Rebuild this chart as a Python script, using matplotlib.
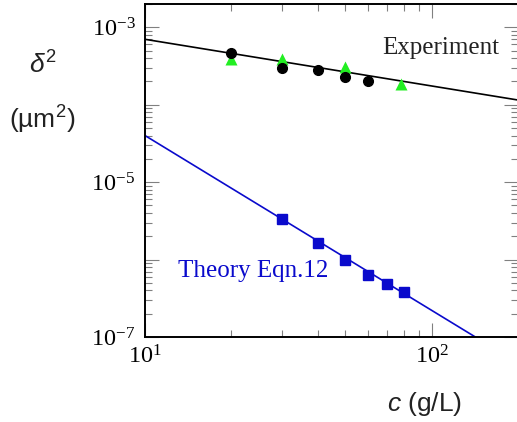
import numpy as np
import matplotlib
matplotlib.use('Agg')
import matplotlib.pyplot as plt
from matplotlib.ticker import LogLocator, FuncFormatter, NullFormatter

plt.rcParams['font.family'] = ['Liberation Serif', 'DejaVu Serif']
plt.rcParams['mathtext.fontset'] = 'custom'
plt.rcParams['mathtext.rm'] = 'Liberation Serif'
plt.rcParams['mathtext.it'] = 'Liberation Sans:italic'
plt.rcParams['mathtext.sf'] = 'Liberation Sans'

# experiment (two data sets) + fitted line
exp_circ_c = [20, 30, 40, 50, 60]
exp_circ_d2 = [4.7e-4, 3.0e-4, 2.8e-4, 2.3e-4, 2.0e-4]
exp_tri_c = [20, 30, 50, 78]
exp_tri_d2 = [3.85e-4, 3.9e-4, 3.05e-4, 1.86e-4]
exp_fit_c = [10, 200]
exp_fit_d2 = [7.0e-4, 1.15e-4]

# theory (Eqn. 12) points + line
theo_c = [30, 40, 50, 60, 70, 80]
theo_d2 = [3.34e-6, 1.65e-6, 9.9e-7, 6.4e-7, 4.9e-7, 3.8e-7]
theo_fit_c = [10, 142]
theo_fit_d2 = [4.0e-5, 1.0e-7]

blue = '#0a0acc'
green = '#22ee22'

fig = plt.figure(figsize=(5.17, 4.22), dpi=100)
ax = fig.add_axes([145/517, 1 - 337/422, 373/517, 333/422])

ax.plot(exp_fit_c, exp_fit_d2, color='black', lw=1.2, zorder=2)
ax.plot(exp_tri_c, exp_tri_d2, '^', color=green, ms=8, mec='none', zorder=3)
ax.plot(exp_circ_c, exp_circ_d2, 'o', color='black', ms=7, zorder=4)
ax.plot(theo_fit_c, theo_fit_d2, color=blue, lw=1.2, zorder=2)
ax.plot(theo_c, theo_d2, 's', color=blue, ms=7, zorder=3)

ax.set_xscale('log')
ax.set_yscale('log')
ax.set_xlim(10, 200)
ax.set_ylim(1e-7, 2e-3)

ax.yaxis.set_major_locator(LogLocator(base=10, numticks=20))
ax.yaxis.set_minor_locator(LogLocator(base=10, subs=np.arange(2, 10), numticks=20))
ax.yaxis.set_minor_formatter(NullFormatter())


def y_fmt(v, pos):
    e = int(round(np.log10(v)))
    if e % 2 == 0:
        return ''
    return r'$\mathdefault{10^{%d}}$' % e


def x_fmt(v, pos):
    e = int(round(np.log10(v)))
    return r'$\mathdefault{10^{%d}}$' % e


ax.yaxis.set_major_formatter(FuncFormatter(y_fmt))
ax.xaxis.set_major_formatter(FuncFormatter(x_fmt))
ax.xaxis.set_minor_formatter(NullFormatter())

ax.tick_params(which='both', direction='in', top=True, right=True,
               color='#808080', width=0.8, labelsize=17.5)
ax.tick_params(which='major', length=10)
ax.tick_params(which='minor', length=5)
ax.tick_params(axis='x', pad=6)
ax.tick_params(axis='y', pad=7)
for s in ax.spines.values():
    s.set_linewidth(1.4)

fig.text(382/517, 1 - 54/422, 'Experiment', fontsize=18, color='#222222',
         ha='left', va='baseline')
fig.text(178/517, 1 - 277/422, 'Theory Eqn.12', fontsize=18, color=blue,
         ha='left', va='baseline')

fig.text(43/517, 1 - 65/422, r'$\delta^{\mathsf{2}}$', family='Liberation Sans',
         fontsize=19, ha='center', va='center', color='#222222')
fig.text(42/517, 1 - 120/422, r'(µm$^{\mathsf{2}}$)', family='Liberation Sans',
         fontsize=19, ha='center', va='center', color='#222222')
fig.text(425/517, 1 - 404/422, r'$c$ (g/L)', family='Liberation Sans',
         fontsize=19, ha='center', va='center', color='#222222')

fig.savefig('out.png', dpi=100)
